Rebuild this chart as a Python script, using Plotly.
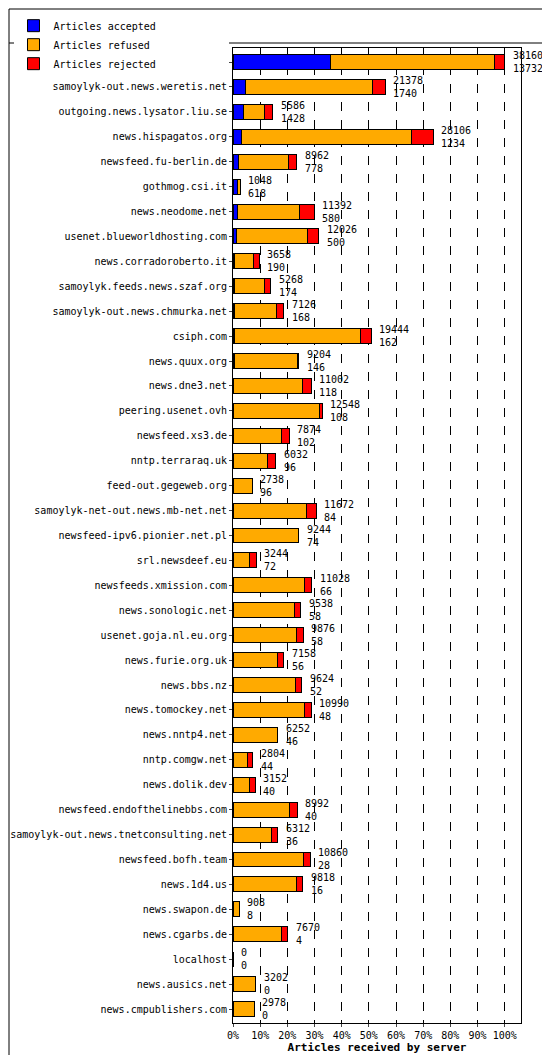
import plotly.graph_objects as go

servers = ["samoylyk-out.feeder.erje.net","samoylyk-out.news.weretis.net","outgoing.news.lysator.liu.se",
"news.hispagatos.org","newsfeed.fu-berlin.de","gothmog.csi.it","news.neodome.net","usenet.blueworldhosting.com",
"news.corradoroberto.it","samoylyk.feeds.news.szaf.org","samoylyk-out.news.chmurka.net","csiph.com",
"news.quux.org","news.dne3.net","peering.usenet.ovh","newsfeed.xs3.de","nntp.terraraq.uk","feed-out.gegeweb.org",
"samoylyk-net-out.news.mb-net.net","newsfeed-ipv6.pionier.net.pl","srl.newsdeef.eu","newsfeeds.xmission.com",
"news.sonologic.net","usenet.goja.nl.eu.org","news.furie.org.uk","news.bbs.nz","news.tomockey.net","news.nntp4.net",
"nntp.comgw.net","news.dolik.dev","newsfeed.endofthelinebbs.com","samoylyk-out.news.tnetconsulting.net",
"newsfeed.bofh.team","news.1d4.us","news.swapon.de","news.cgarbs.de","localhost","news.ausics.net","news.cmpublishers.com"]
offered = [38160,21378,5586,28106,8962,1048,11392,12026,3658,5268,7126,19444,9204,11002,12548,7874,6032,2738,
11672,9244,3244,11028,9538,9876,7158,9624,10990,6252,2804,3152,8992,6312,10860,9818,908,7670,0,3202,2978]
accepted = [13732,1740,1428,1234,778,618,580,500,190,174,168,162,146,118,108,102,96,96,84,74,72,66,58,58,56,52,
48,46,44,40,40,36,28,16,8,4,0,0,0]
rejected = [1400,1800,1100,3100,1200,0,2000,1500,800,900,1000,1500,200,1200,400,1100,1200,0,1300,0,900,1000,900,
900,900,900,900,0,800,900,1100,900,1000,900,0,900,0,0,0]
refused = [o-a-r for o,a,r in zip(offered,accepted,rejected)]

mx = max(offered)
pct = lambda v: [x/mx*100 for x in v]

fig = go.Figure()
for name, vals, col in [("Articles accepted", accepted, "#0000ff"),
                        ("Articles refused", refused, "#ffaa00"),
                        ("Articles rejected", rejected, "#ff0000")]:
    fig.add_trace(go.Bar(y=servers, x=pct(vals), orientation="h", name=name,
                         marker=dict(color=col, line=dict(color="black", width=1)), width=0.6))

for s, o, a in zip(servers, offered, accepted):
    fig.add_annotation(x=o/mx*100, y=s, text=f"{o}<br>{a}", xanchor="left", xshift=6,
                       showarrow=False, align="left", font=dict(size=10, color="black"))

fig.update_layout(
    width=550, height=1055, barmode="stack", plot_bgcolor="white", paper_bgcolor="white",
    margin=dict(l=225, r=37, t=40, b=40, autoexpand=False),
    font=dict(family="DejaVu Sans Mono", size=10, color="black"),
    bargap=0.4,
    legend=dict(orientation="h", xref="container", yref="container", x=0.01, y=0.997,
                yanchor="top", font=dict(size=10), entrywidth=170, traceorder="normal"),
    xaxis=dict(range=[0, 106], tickvals=list(range(0, 101, 10)), automargin=False,
               ticktext=[f"{v}%" for v in range(0, 101, 10)], tickangle=0,
               showgrid=True, gridcolor="black", griddash="dash", gridwidth=1,
               showline=True, linecolor="black", mirror=True, ticks="outside", ticklen=3,
               title=dict(text="<b>Articles received by server</b>", standoff=0,
                          font=dict(size=11))),
    yaxis=dict(autorange="reversed", showline=True, linecolor="black", mirror=True,
               ticks="outside", ticklen=3, automargin=False),
)
fig.add_shape(type="rect", xref="paper", yref="paper", x0=-224/288, x1=1+36/288, y0=-39/975, y1=1+39/975,
              line=dict(color="black", width=1))
fig.add_shape(type="line", xref="paper", yref="paper", x0=-224/288, x1=1+36/288, y0=1+5/975, y1=1+5/975,
              line=dict(color="black", width=1))
fig.write_html("out.html")
